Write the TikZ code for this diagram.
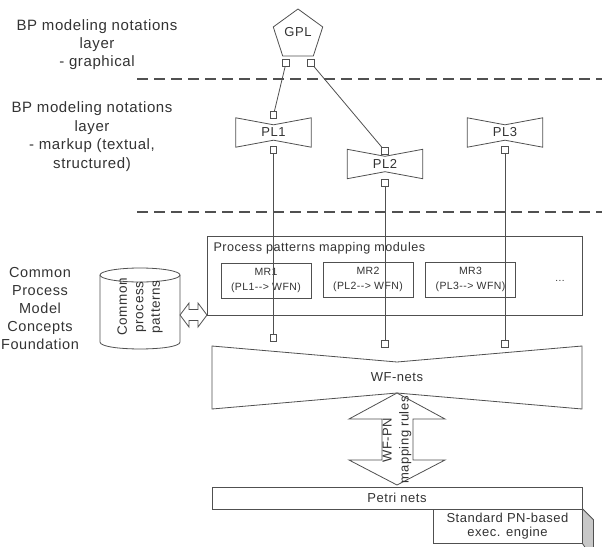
\documentclass[tikz,border=0pt]{standalone}
\usepackage{fontspec}
\setmainfont{Liberation Sans}[LetterSpace=4]
\usetikzlibrary{shapes.geometric}
\definecolor{ink}{HTML}{333333}
\definecolor{edge}{HTML}{505050}
\definecolor{side}{HTML}{C8C8C8}
\newcommand\fs[2]{\fontsize{#1}{#2}\selectfont}
\newcommand\plshape[1]{\draw[shapeline] (#1.north west) -- ([yshift=-7pt]#1.north) -- (#1.north east) -- (#1.south east) -- ([yshift=7pt]#1.south) -- (#1.south west) -- cycle;}
\begin{document}
\begin{tikzpicture}[x=1pt,y=-1pt,
  shapeline/.style={draw=edge, line width=0.8pt},
  lbl/.style={text=ink, align=center, font=\fs{14.5}{18}},
  sq/.style={draw=edge, fill=white, minimum size=6.5pt, inner sep=0pt, outer sep=0pt, line width=0.7pt},
  plnode/.style={minimum width=75pt, minimum height=29pt, inner sep=0pt, text=ink, font=\fs{13}{15}},
  boxnode/.style={draw=edge, fill=white, line width=0.8pt, inner sep=0pt, text=ink},
  mrnode/.style={boxnode, minimum width=90pt, minimum height=35pt, align=center, font=\fs{10.5}{14.5}},
  layerline/.style={draw=edge, line width=2pt, dash pattern=on 11pt off 6pt},
  conn/.style={draw=edge, line width=0.8pt},
  hollow/.style={draw=edge, fill=white, line width=0.8pt, line join=miter}
]
\useasboundingbox (0,0) rectangle (609,546);

% left layer labels
\node[lbl, font=\fs{15}{18}] (t1) at (97,45) {BP modeling notations\\layer\\- graphical};
\node[lbl, font=\fs{15}{18.5}] (t2) at (92,136.5) {BP modeling notations\\layer\\- markup (textual,\\structured)};
\node[lbl, font=\fs{14.5}{18}] (t3) at (40,309) {Common\\Process\\Model\\Concepts\\Foundation};

% dashed layer separators
\coordinate (d1a) at (137,79);
\coordinate (d1b) at (602,79);
\coordinate (d2a) at (137,212);
\coordinate (d2b) at (602,212);
\draw[layerline] (d1a) -- (d1b);
\draw[layerline] (d2a) -- (d2b);

% GPL
\node[regular polygon, regular polygon sides=5, draw=edge, line width=0.8pt, minimum size=52pt, inner sep=0pt, text=ink, font=\fs{13}{15}] (gpl) at (298,35) {};
\node[text=ink, font=\fs{13}{15}] (gpltext) at (298,32) {GPL};
\node[sq] (gplL) at (286,63) {};
\node[sq] (gplR) at (311,63) {};

% PL nodes
\node[plnode] (pl1) at (273.5,132.5) {PL1};
\plshape{pl1}
\node[plnode] (pl2) at (385,164) {PL2};
\plshape{pl2}
\node[plnode] (pl3) at (505,132.5) {PL3};
\plshape{pl3}
\node[sq] (pl1t) at (273.5,115) {};
\node[sq] (pl1b) at (273.5,150) {};
\node[sq] (pl2t) at (385,151) {};
\node[sq] (pl2b) at (385,183) {};
\node[sq] (pl3b) at (505,150) {};

\draw[conn] (gplL) -- (pl1t);
\draw[conn] (gplR) -- (pl2t);

% mapping modules
\node[boxnode, minimum width=375pt, minimum height=79pt] (mm) at (394.5,275.5) {};
\node[anchor=west, text=ink, font=\fs{12.6}{15}] (mmlabel) at (210,248) {Process patterns mapping modules};
\node[mrnode] (mr1) at (266,280.5) {MR1\\(PL1-{}-> WFN)};
\node[mrnode] (mr2) at (368,279.5) {MR2\\(PL2-{}-> WFN)};
\node[mrnode] (mr3) at (470.5,279.5) {MR3\\(PL3-{}-> WFN)};
\node[text=ink, font=\fs{10}{12}] (dots) at (560,281) {...};

% WF-nets
\draw[shapeline, fill=white] (212,346) -- (397,362) -- (582,346) -- (582,409) -- (397,393) -- (212,409) -- cycle;
\node[text=ink, font=\fs{13}{15}] (wf) at (397,377) {WF-nets};
\node[sq] (wf1) at (273.5,338) {};
\node[sq] (wf2) at (385,344) {};
\node[sq] (wf3) at (505,344) {};

\draw[conn] (pl1b) -- (wf1);
\draw[conn] (pl2b) -- (wf2);
\draw[conn] (pl3b) -- (wf3);

% cylinder
\fill[white] (100,275) -- (100,342) .. controls (100,351.3) and (180,351.3) .. (180,342) -- (180,275) -- cycle;
\draw[shapeline] (100,275) -- (100,342) .. controls (100,351.3) and (180,351.3) .. (180,342) -- (180,275);
\draw[shapeline] (140,275) ellipse [x radius=40, y radius=7];
\node[rotate=90, text=ink, align=center, font=\fs{13.5}{16.5}] (cyl) at (140,307) {Common\\process\\patterns};

% horizontal double arrow
\draw[hollow] (180,315) -- (189,303) -- (189,309.5) -- (198,309.5) -- (198,303) -- (207,315) -- (198,327) -- (198,320.5) -- (189,320.5) -- (189,327) -- cycle;

% vertical double arrow
\draw[hollow] (397,393) -- (445,419) -- (413,419) -- (413,460) -- (445,460) -- (397,485) -- (349,460) -- (382,460) -- (382,419) -- (349,419) -- cycle;
\node[rotate=90, text=ink, align=center, font=\fs{13}{17}] (wfpn) at (397,440) {WF-PN\\mapping rules};

% Petri nets and engine
\node[boxnode, minimum width=370pt, minimum height=22pt, font=\fs{13}{15}] (petri) at (397,498) {Petri nets};
\node[boxnode, minimum width=149pt, minimum height=34pt, align=center, font=\fs{13}{14}] (std) at (507.5,526) {Standard PN-based\\exec. engine};
\draw[shapeline, fill=side] (std.north east) -- ++(11,11) -- ++(0,40) -- (std.south east) -- cycle;
\end{tikzpicture}
\end{document}
